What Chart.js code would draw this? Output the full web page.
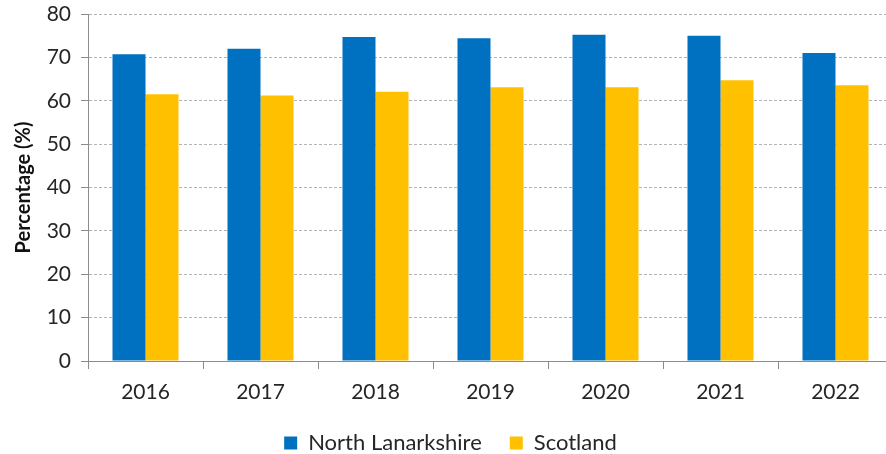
<!DOCTYPE html>
<html>
<head>
<meta charset="utf-8">
<script src="https://cdn.jsdelivr.net/npm/chart.js@4/dist/chart.umd.min.js"></script>
<style>
  html, body { margin: 0; padding: 0; background: #fff; overflow: hidden; }
  #wrap { position: relative; width: 896px; height: 464px; }
</style>
</head>
<body>
<div id="wrap"><canvas id="chart"></canvas></div>
<script>
// Years shown along the x axis
const years = ['2016', '2017', '2018', '2019', '2020', '2021', '2022'];
// Percentages per year
const northLanarkshire = [70.7, 72.0, 74.7, 74.4, 75.2, 75.0, 71.0];
const scotland = [61.5, 61.2, 62.1, 63.1, 63.1, 64.7, 63.6];
// Value axis ticks
const yTicks = [0, 10, 20, 30, 40, 50, 60, 70, 80];

const textColor = '#262626';
const axisColor = '#8c8c8c';
const fontFamily = 'Lato, "Open Sans", sans-serif';

new Chart(document.getElementById('chart'), {
  type: 'bar',
  data: {
    labels: years,
    datasets: [
      { label: 'North Lanarkshire', data: northLanarkshire, backgroundColor: '#0070C0' },
      { label: 'Scotland', data: scotland, backgroundColor: '#FFC000' }
    ]
  },
  options: {
    responsive: true,
    maintainAspectRatio: false,
    animation: false,
    layout: { padding: { top: 0, right: 3, bottom: 0, left: 8 } },
    datasets: {
      bar: { categoryPercentage: 0.574, barPercentage: 1.0 }
    },
    plugins: {
      legend: {
        position: 'bottom',
        labels: {
          boxWidth: 13,
          boxHeight: 13,
          padding: 28,
          color: textColor,
          font: { family: fontFamily, size: 22 }
        }
      },
      tooltip: { enabled: false }
    },
    scales: {
      x: {
        grid: {
          offset: true,
          drawOnChartArea: false,
          drawTicks: true,
          tickLength: 8,
          color: axisColor,
          lineWidth: 1
        },
        border: { display: true, color: axisColor, width: 1 },
        ticks: {
          color: textColor,
          padding: 11,
          font: { family: fontFamily, size: 21 }
        },
        afterFit: (scale) => { scale.height = 43; }
      },
      y: {
        min: 0,
        max: 80,
        afterBuildTicks: (scale) => { scale.ticks = yTicks.map(v => ({ value: v })); },
        grid: {
          color: '#b4b4b4',
          lineWidth: 1,
          drawTicks: true,
          tickLength: 7,
          tickColor: axisColor,
          tickBorderDash: []
        },
        border: { display: true, color: axisColor, width: 1, dash: [3, 2] },
        ticks: {
          color: textColor,
          padding: 10,
          font: { family: fontFamily, size: 21 }
        },
        title: {
          display: true,
          text: 'Percentage (%)',
          color: '#111111',
          padding: { top: 4, bottom: 0 },
          font: { family: fontFamily, size: 20, weight: 'bold' }
        },
        afterFit: (scale) => {
          scale.width = 80;
          scale.paddingTop = 14;
        }
      }
    }
  }
});
</script>
</body>
</html>
